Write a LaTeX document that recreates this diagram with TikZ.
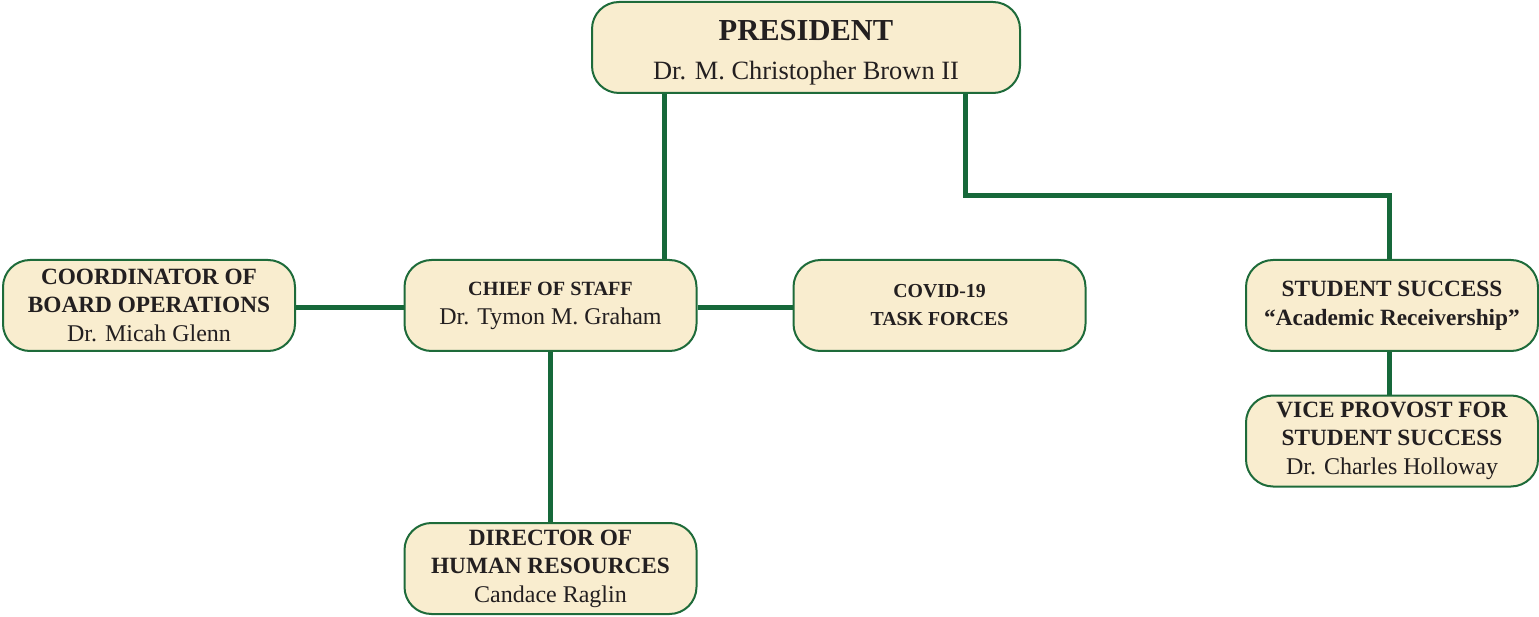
\documentclass[tikz,border=0pt]{standalone}
\usepackage{fontspec}
\setmainfont{Liberation Serif}
\usetikzlibrary{backgrounds}
\definecolor{boxfill}{HTML}{F9EDCF}
\definecolor{boxline}{HTML}{1E6B3A}
\definecolor{conn}{HTML}{16683A}
\definecolor{txt}{HTML}{231F20}
\tikzset{
  orgbox/.style={draw=boxline, line width=2pt, fill=boxfill, rounded corners=27pt,
    minimum width=292pt, minimum height=91pt, inner sep=0pt, align=center,
    text=txt, font=\fontsize{23.3}{28}\selectfont},
  link/.style={draw=conn, line width=5pt}
}
\begin{document}
\begin{tikzpicture}[x=1pt,y=-1pt]
\useasboundingbox (0,0) rectangle (1539,617);
\node[orgbox, minimum width=428pt] (pres) at (806,47.5)
  {{\fontsize{30.5}{34}\selectfont\bfseries\rule{0pt}{30pt}PRESIDENT}\\[11pt]{\fontsize{26.4}{30}\selectfont Dr. M. Christopher Brown II}};
\node[orgbox] (coord) at (149,305.5)
  {\bfseries COORDINATOR OF\\\bfseries BOARD OPERATIONS\\[1pt]\fontsize{24}{28}\selectfont Dr. Micah Glenn};
\node[orgbox] (chief) at (550.5,305.5)
  {{\fontsize{20.2}{24}\selectfont\bfseries CHIEF OF STAFF}\\[1pt]\fontsize{24}{28}\selectfont Dr. Tymon M. Graham};
\node[orgbox] (covid) at (939.5,305.5)
  {\fontsize{19.8}{28}\selectfont\bfseries COVID-19\\\fontsize{19.8}{28}\selectfont\bfseries TASK FORCES};
\node[orgbox] (ss) at (1392,305.5)
  {\bfseries STUDENT SUCCESS\\[1pt]\bfseries ``Academic Receivership''};
\node[orgbox] (vp) at (1392,441)
  {\bfseries VICE PROVOST FOR\\\bfseries STUDENT SUCCESS\\[1pt]\fontsize{24}{28}\selectfont Dr. Charles Holloway};
\node[orgbox] (hr) at (550.5,568.5)
  {\bfseries DIRECTOR OF\\\bfseries HUMAN RESOURCES\\[1pt]\fontsize{24}{28}\selectfont Candace Raglin};
\begin{scope}[on background layer]
\draw[link] ([xshift=-142pt]pres.south) -- ([xshift=113.5pt]chief.north);
\draw[link] ([xshift=159pt]pres.south) -- ++(0,102) -| ([xshift=-3pt]ss.north);
\draw[link] ([yshift=-2.5pt]chief.west) -- ([yshift=-2.5pt]coord.east);
\draw[link] ([yshift=-2.5pt]chief.east) -- ([yshift=-2.5pt]covid.west);
\draw[link] (chief.south) -- (hr.north);
\draw[link] ([xshift=-3pt]ss.south) -- ([xshift=-3pt]vp.north);
\end{scope}
\end{tikzpicture}
\end{document}
